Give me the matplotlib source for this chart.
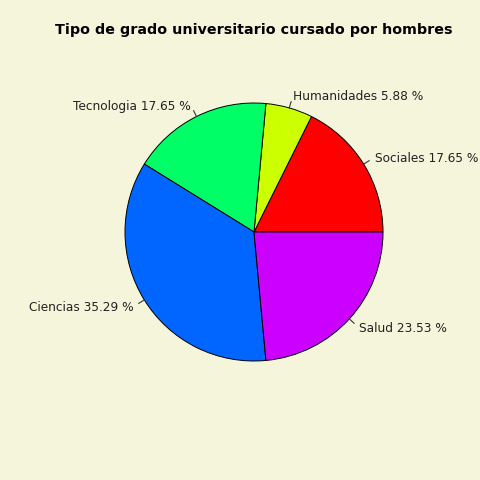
import numpy as np
import matplotlib
matplotlib.use("Agg")
import matplotlib.pyplot as plt
from matplotlib.colors import hsv_to_rgb

categories = ["Sociales", "Humanidades", "Tecnologia", "Ciencias", "Salud"]
values = [3, 1, 3, 6, 4]
title = "Tipo de grado universitario cursado por hombres"

hues = np.arange(len(values)) / len(values)
colors = [hsv_to_rgb((h, 1.0, 1.0)) for h in hues]

fig = plt.figure(figsize=(4.8, 4.8), dpi=100, facecolor="#f5f5dc")
ax = fig.add_axes([92.75 / 480, 86.75 / 480, 322.5 / 480, 322.5 / 480])
ax.set_facecolor("#f5f5dc")

wedges, _ = ax.pie(values, colors=colors, startangle=0, counterclock=True,
                   wedgeprops=dict(edgecolor="black", linewidth=0.7))
ax.set_xlim(-1.25, 1.25)
ax.set_ylim(-1.25, 1.25)
ax.set_aspect("equal")

total = sum(values)
for w, cat, v in zip(wedges, categories, values):
    ang = np.deg2rad((w.theta1 + w.theta2) / 2)
    c, s = np.cos(ang), np.sin(ang)
    ax.plot([c * 1.0, c * 1.05], [s * 1.0, s * 1.05], color="#333333", lw=0.8)
    ha = "left" if c >= 0 else "right"
    ax.text(c * 1.1, s * 1.1 - 0.01, f"{cat} {100 * v / total:.2f} %", ha=ha,
            va="center", fontsize=8.7, color="#222222")

fig.text(254 / 480, 1 - 30 / 480, title, ha="center", va="center",
         fontsize=10.3, fontweight="bold", color="black")

fig.savefig("out.png", dpi=100, facecolor=fig.get_facecolor())
